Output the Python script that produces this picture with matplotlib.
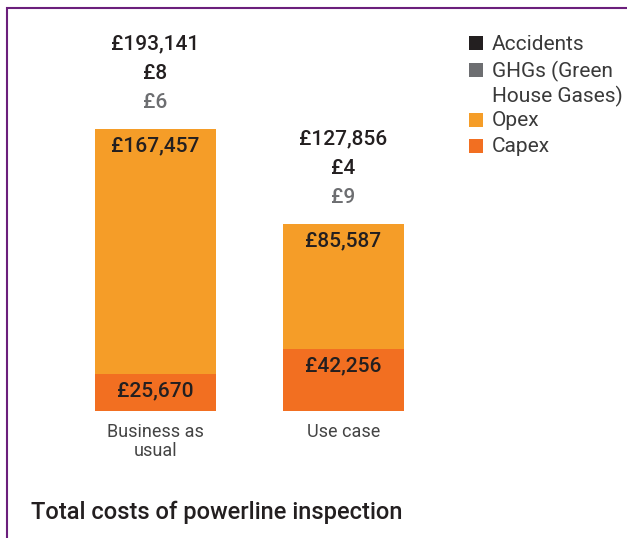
import matplotlib
matplotlib.use("Agg")
import matplotlib.pyplot as plt
from matplotlib.patches import Rectangle

plt.rcParams['font.family'] = ['Roboto', 'DejaVu Sans']

categories = ["Business as\nusual", "Use case"]
capex = [25670, 42256]
opex = [167457, 85587]
ghgs = [6, 9]
accidents = [8, 4]
totals = [193141, 127856]

series_names = ["Accidents", "GHGs (Green", "House Gases)", "Opex", "Capex"]
c_acc = "#231F20"
c_ghg = "#6D6E71"
c_opex = "#F59D28"
c_capex = "#F26F21"
c_text = "#231F20"

W, H = 627, 538
fig = plt.figure(figsize=(W / 100, H / 100), dpi=100)

# purple frame (top + left)
fig.add_artist(Rectangle((6.5 / W, -0.1), 2, (H - 8.5) / H + 0.1,
                         transform=fig.transFigure, fill=False,
                         edgecolor="#6B1F7C", linewidth=1.5))

ax = fig.add_axes([0, (H - 411) / H, 1, 282 / H])
x = list(range(len(categories)))
ax.set_xlim(-155.5 / 188, (627 - 155.5) / 188)
ax.set_ylim(0, totals[0])
ax.axis("off")

bw = 121 / 188
ax.bar(x, capex, width=bw, color=c_capex, zorder=2)
ax.bar(x, opex, width=bw, bottom=capex, color=c_opex, zorder=2)

fs = 15
fw = "medium"
for i in x:
    ax.annotate(f"£{capex[i]:,}", (i, capex[i]), xytext=(0, -17),
                textcoords="offset pixels", ha="center", va="center",
                fontsize=fs, fontweight=fw, color=c_text)
    top = capex[i] + opex[i]
    ax.annotate(f"£{opex[i]:,}", (i, top), xytext=(0, -17),
                textcoords="offset pixels", ha="center", va="center",
                fontsize=fs, fontweight=fw, color=c_text)
    ax.annotate(f"£{ghgs[i]:,}", (i, top), xytext=(0, 27),
                textcoords="offset pixels", ha="center", va="center",
                fontsize=fs, fontweight=fw, color=c_ghg)
    ax.annotate(f"£{accidents[i]:,}", (i, top), xytext=(0, 56),
                textcoords="offset pixels", ha="center", va="center",
                fontsize=fs, fontweight=fw, color=c_text)
    ax.annotate(f"£{totals[i]:,}", (i, top), xytext=(0, 85),
                textcoords="offset pixels", ha="center", va="center",
                fontsize=fs, fontweight=fw, color=c_text)
    ax.annotate(categories[i], (i, 0), xytext=(0, -12),
                textcoords="offset pixels", ha="center", va="top",
                fontsize=13, fontweight="normal", color="#444444",
                linespacing=1.1)

# legend
leg_colors = [c_acc, c_ghg, None, c_opex, c_capex]
leg_y = [44, 71, 96, 121, 147]
for name, col, yy in zip(series_names, leg_colors, leg_y):
    if col is not None:
        fig.add_artist(Rectangle((469 / W, 1 - (yy + 6) / H), 14 / W, 14 / H,
                                 transform=fig.transFigure, facecolor=col,
                                 edgecolor="none"))
    fig.text(492 / W, 1 - yy / H, name, ha="left", va="center",
             fontsize=15, fontweight="normal", color="#3a3a3a",
             transform=fig.transFigure)

fig.text(31 / W, 1 - 512 / H, "Total costs of powerline inspection",
         ha="left", va="center", fontsize=17, fontweight="medium",
         color=c_text)

fig.savefig("out.png", dpi=100, facecolor="white")
